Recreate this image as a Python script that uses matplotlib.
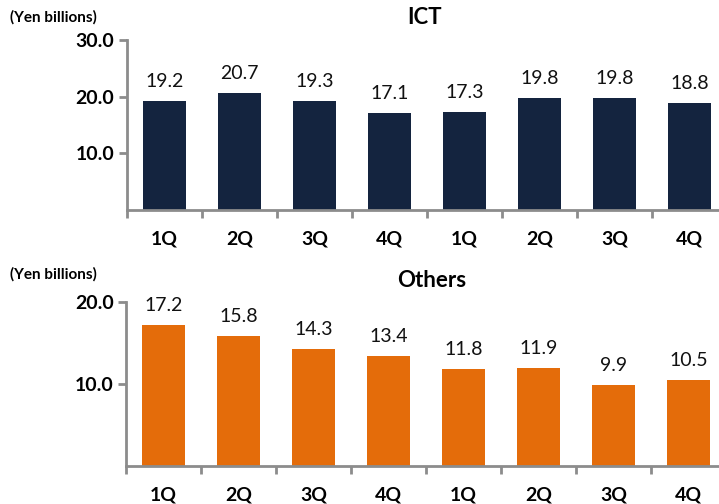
import matplotlib.pyplot as plt
import numpy as np

plt.rcParams['font.family'] = ['Lato', 'DejaVu Sans']

quarters = ["1Q", "2Q", "3Q", "4Q", "1Q", "2Q", "3Q", "4Q"]
ict = [19.2, 20.7, 19.3, 17.1, 17.3, 19.8, 19.8, 18.8]
others = [17.2, 15.8, 14.3, 13.4, 11.8, 11.9, 9.9, 10.5]

grey = "#8c8c8c"

fig = plt.figure(figsize=(7.19, 5.04), dpi=100)

# axes run past the right edge, like the original slide crop
ax1 = fig.add_axes([127 / 719, 1 - 210 / 504, 600 / 719, 170 / 504])
ax2 = fig.add_axes([126 / 719, 1 - 466 / 504, 600 / 719, 164 / 504])


def draw(ax, vals, color, ymax, yticks, title, title_pos):
    x = np.arange(len(vals))
    ax.bar(x, vals, width=0.58, color=color)
    for xi, v in zip(x, vals):
        ax.annotate(f"{v:.1f}", (xi, v), xytext=(0, 8), textcoords="offset points",
                    ha="center", va="bottom", fontsize=14, color="#111111")
    ax.set_xlim(-0.5, len(vals) - 0.5)
    ax.set_ylim(0, ymax)
    ax.set_yticks(yticks)
    ax.set_yticklabels([f"{t:.1f}" for t in yticks], fontsize=14, fontweight="bold")
    ax.set_xticks(x)
    ax.set_xticklabels(quarters, fontsize=14, fontweight="bold")
    ax.set_xticks(np.arange(len(vals) + 1) - 0.5, minor=True)
    ax.tick_params(axis="x", which="major", length=0, pad=15)
    ax.tick_params(axis="x", which="minor", length=6, width=2, color=grey)
    ax.tick_params(axis="y", length=6, width=2, color=grey, pad=3)
    for s in ["top", "right"]:
        ax.spines[s].set_visible(False)
    for s in ["left", "bottom"]:
        ax.spines[s].set_color(grey)
        ax.spines[s].set_linewidth(2)
    ax.set_title(title, fontsize=16, fontweight="bold", x=(title_pos[0] - 127) / 600,
                 y=title_pos[1], va="center", pad=0)


draw(ax1, ict, "#14243f", 30, [10.0, 20.0, 30.0], "ICT", (425, 1.13))
draw(ax2, others, "#e46c0a", 20, [10.0, 20.0], "Others", (433, 1.13))

fig.text(10 / 719, 1 - 17 / 504, "(Yen billions)", fontsize=11, fontweight="bold", va="center")
fig.text(10 / 719, 1 - 274 / 504, "(Yen billions)", fontsize=11, fontweight="bold", va="center")

fig.savefig("out.png", dpi=100)
